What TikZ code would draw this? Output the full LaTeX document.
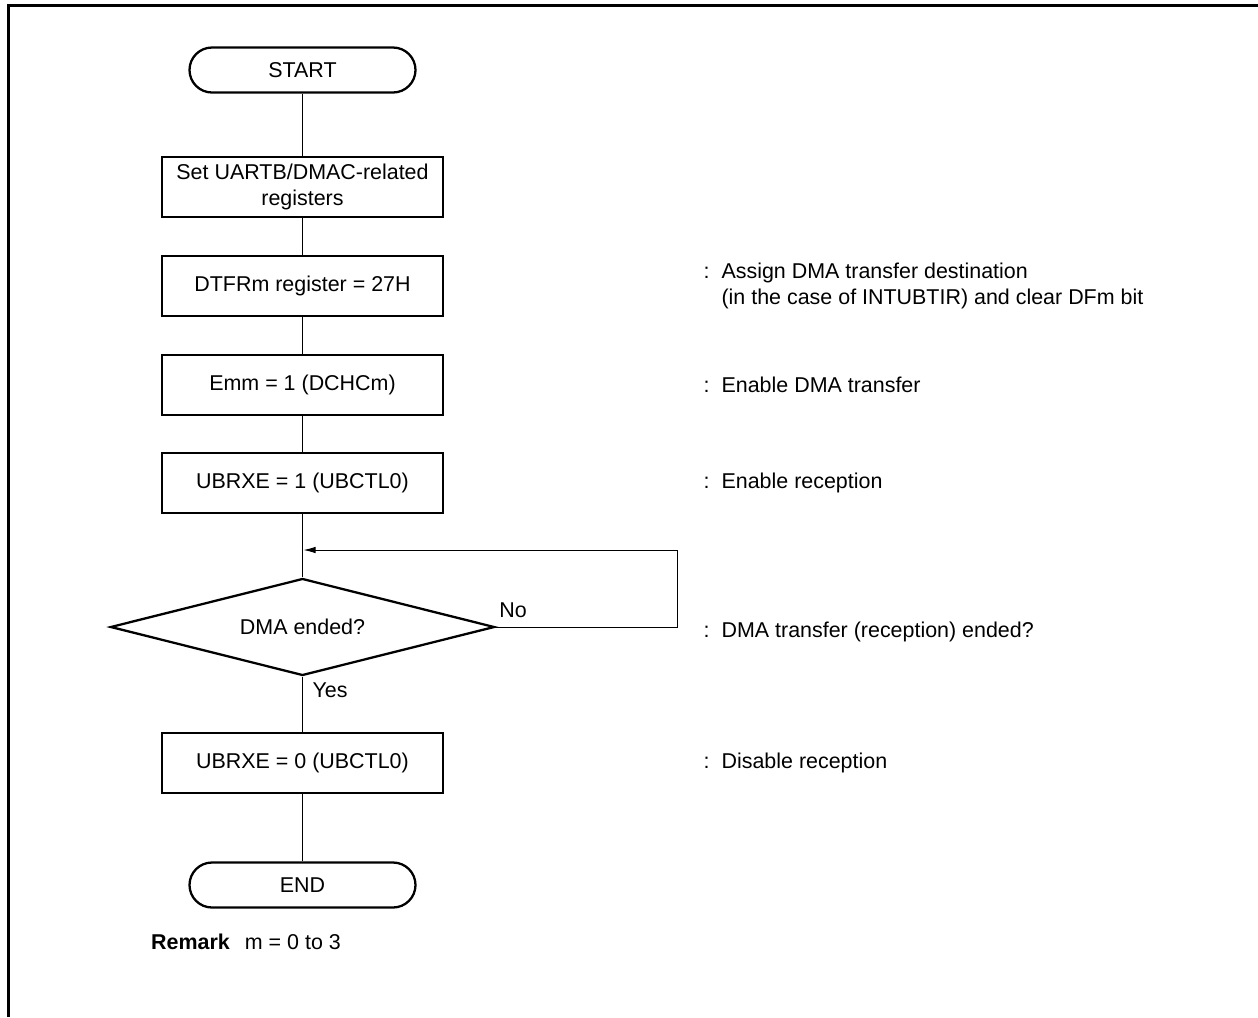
\documentclass[tikz,border=0pt]{standalone}
\usepackage{fontspec}
\setmainfont{Liberation Sans}
\usetikzlibrary{positioning, arrows.meta, shapes.geometric}

\begin{document}
\begin{tikzpicture}[
  font=\fontsize{12.2}{14.6}\selectfont,
  proc/.style={draw, rectangle, line width=1.3pt, minimum width=5.62cm, minimum height=1.2cm, align=center, inner sep=2pt},
  term/.style={draw, rectangle, rounded corners=0.45cm, line width=1.3pt, minimum width=4.52cm, minimum height=0.9cm},
  test/.style={draw, diamond, aspect=4, line width=1.3pt, minimum width=7.68cm, minimum height=1.94cm, inner sep=0pt},
  note/.style={anchor=west, align=left},
  flow/.style={line width=0.5pt}
]
  \useasboundingbox (0,0) rectangle (25.16,-20.34);
  % frame (top and left edges only)
  \draw[line width=0.06cm] (0.17,-20.34) |- (25.16,-0.1);

  % flow chart (left column)
  \node (start) [term] at (6.05,-1.40) {START};
  \node (setreg) [proc] at (6.05,-3.74) {Set UARTB/DMAC-related\\registers};
  \node (dtfr) [proc] at (6.05,-5.72) {DTFRm register = 27H};
  \node (emm) [proc] at (6.05,-7.70) {Emm = 1 (DCHCm)};
  \node (rxeon) [proc] at (6.05,-9.66) {UBRXE = 1 (UBCTL0)};
  \node (dmaend) [test] at (6.05,-12.54) {DMA ended?};
  \node (rxeoff) [proc] at (6.05,-15.26) {UBRXE = 0 (UBCTL0)};
  \node (stop) [term] at (6.05,-17.70) {END};
  \draw[flow] (start) -- (setreg);
  \draw[flow] (setreg) -- (dtfr);
  \draw[flow] (dtfr) -- (emm);
  \draw[flow] (emm) -- (rxeon);
  \draw[flow] (rxeon) -- (dmaend);
  \draw[flow] (dmaend) -- (rxeoff);
  \draw[flow] (rxeoff) -- (stop);

  % wait loop
  \coordinate (loopr) at (13.54,-11.0);
  \coordinate (loopj) at (6.07,-11.0);
  \draw[flow, -{Latex[length=2.4mm, width=1.3mm]}] (dmaend.east) -| (loopr) -- (loopj);
  \node (no) at (10.26,-12.2) {No};
  \node (yes) at (6.6,-13.8) {Yes};

  % notes (right column)
  \node (n1) [note] at (13.95,-5.72) {:\ \ Assign DMA transfer destination\\\phantom{:\ \ }(in the case of INTUBTIR) and clear DFm bit};
  \node (n2) [note] at (13.95,-7.70) {:\ \ Enable DMA transfer};
  \node (n3) [note] at (13.95,-9.66) {:\ \ Enable reception};
  \node (n4) [note] at (13.95,-12.64) {:\ \ DMA transfer (reception) ended?};
  \node (n5) [note] at (13.95,-15.26) {:\ \ Disable reception};

  % remark
  \node (remark) [anchor=west] at (2.9,-18.84) {\textbf{Remark}\hspace{0.3cm}m = 0 to 3};
\end{tikzpicture}
\end{document}
